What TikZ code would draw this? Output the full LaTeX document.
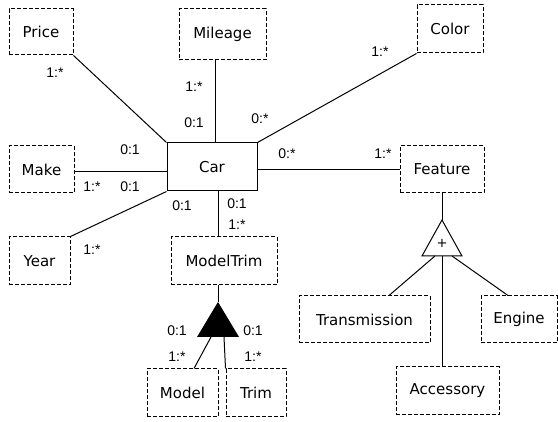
\documentclass[tikz,border=0pt]{standalone}
\usepackage{fontspec}
\setmainfont{DejaVu Sans}
\newfontfamily\lblfont{Liberation Sans}
\begin{document}
\begin{tikzpicture}[x=1pt,y=-1pt,line width=1pt,
  ent/.style={draw,dashed,dash pattern=on 4pt off 2pt,inner sep=0pt,font=\fontsize{15}{16}\selectfont},
  carbox/.style={draw,inner sep=0pt,font=\fontsize{15}{16}\selectfont},
  card/.style={inner sep=0pt,font=\lblfont\fontsize{14}{15}\selectfont}]
\useasboundingbox (0,0) rectangle (558,422);
% entities
\node[ent,minimum width=64pt,minimum height=46pt] (price) at (41,32) {Price};
\node[ent,minimum width=87pt,minimum height=51pt] (mileage) at (222.5,34.5) {Mileage};
\node[ent,minimum width=66pt,minimum height=48pt] (color) at (450,29) {Color};
\node[carbox,minimum width=90pt,minimum height=48pt] (car) at (212,167) {Car};
\node[ent,minimum width=65pt,minimum height=47pt] (make) at (41.5,169.5) {Make};
\node[ent,minimum width=61pt,minimum height=48pt] (year) at (39.5,261) {Year};
\node[ent,minimum width=106pt,minimum height=48pt] (modeltrim) at (224,261) {ModelTrim};
\node[ent,minimum width=84pt,minimum height=47pt] (feature) at (442,169.5) {Feature};
\node[ent,minimum width=131pt,minimum height=47pt] (trans) at (364.5,319.5) {Transmission};
\node[ent,minimum width=76pt,minimum height=47pt] (engine) at (519,319.5) {Engine};
\node[ent,minimum width=103pt,minimum height=48pt] (acc) at (447.5,391) {Accessory};
\node[ent,minimum width=71pt,minimum height=48pt] (model) at (182.5,393) {Model};
\node[ent,minimum width=60pt,minimum height=48pt] (trim) at (256,393) {Trim};
% triangles
\coordinate (fapex) at (442,220);
\coordinate (fbl) at (422,256);
\coordinate (fbr) at (462,256);
\draw (fapex) -- (fbl) -- (fbr) -- cycle;
\node[inner sep=0pt,font=\fontsize{13}{14}\selectfont] (plus) at (442,243.5) {+};
\coordinate (mapex) at (218,302);
\coordinate (mbl) at (197,337);
\coordinate (mbr) at (239,337);
\fill (mapex) -- (mbl) -- (mbr) -- cycle;
% connectors
\draw (price.south east) -- (car.north west);
\draw ([xshift=3pt]car.north) -- ([xshift=3pt]car.north |- mileage.south);
\draw (color.south west) -- (car.north east);
\draw ([yshift=-2.5pt]make.east) -- ([yshift=-2.5pt]make.east -| car.west);
\draw (year.north east) -- (car.south west);
\draw ([xshift=6pt]car.south) -- ([xshift=6pt]car.south |- modeltrim.north);
\draw ([yshift=-2.5pt]car.east) -- ([yshift=-2.5pt]car.east -| feature.west);
\draw (feature.south) -- (fapex);
\coordinate (ftl) at (435,256);
\coordinate (ftr) at (452,256);
\draw (ftl) -- (trans.north -| 389,0);
\draw (ftr) -- (engine.north -| 508,0);
\draw (fapex |- fbl) -- (acc.north -| fapex);
\draw (modeltrim.south -| mapex) -- (mapex);
\coordinate (mtl) at (211,337);
\coordinate (mtr) at (224,337);
\draw (mtl) -- (model.north -| 194,0);
\draw (mtr) -- (trim.north west);
% cardinalities
\node[card] at (55,73) {1:*};
\node[card] at (194,87) {1:*};
\node[card] at (194,123) {0:1};
\node[card] at (260,119) {0:*};
\node[card] at (380,52) {1:*};
\node[card] at (130,150) {0:1};
\node[card] at (92,187) {1:*};
\node[card] at (130,187) {0:1};
\node[card] at (182,206) {0:1};
\node[card] at (92,250) {1:*};
\node[card] at (237,204) {0:1};
\node[card] at (237,225) {1:*};
\node[card] at (287,154) {0:*};
\node[card] at (383,154) {1:*};
\node[card] at (177,331) {0:1};
\node[card] at (177,357) {1:*};
\node[card] at (253,331) {0:1};
\node[card] at (253,357) {1:*};
\end{tikzpicture}
\end{document}
